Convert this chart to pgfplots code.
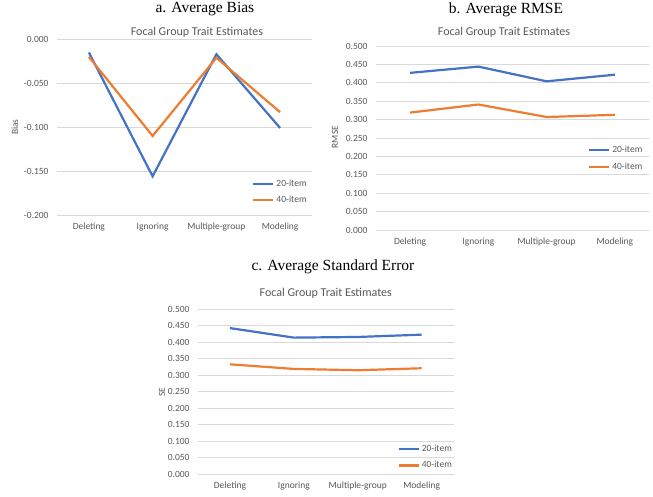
\documentclass[border=0pt]{standalone}
\usepackage{pgfplots}
\pgfplotsset{compat=1.18}
\usepackage{fontspec}
\setmainfont{Carlito}
\newfontfamily\headfont{Liberation Serif}
\definecolor{exblue}{HTML}{4472C4}
\definecolor{exorange}{HTML}{ED7D31}
\definecolor{txtgray}{HTML}{595959}
\definecolor{gridgray}{HTML}{D9D9D9}
\pgfplotsset{
  excel/.style={
    scale only axis,
    anchor=south west,
    clip=false,
    xmin=-0.5, xmax=3.5,
    xtick={0,1,2,3},
    xticklabels={Deleting,Ignoring,Multiple-group,Modeling},
    axis line style={draw=none},
    major tick length=0pt,
    ymajorgrids,
    grid style={gridgray, line width=0.7pt},
    tick label style={font=\fontsize{9.5}{11}\selectfont, text=txtgray},
    yticklabel style={xshift=-5pt},
    xticklabel style={yshift=-4pt},
    ylabel style={font=\fontsize{9.5}{11}\selectfont, text=txtgray},
    every axis title shift=0pt,
    title style={font=\fontsize{12}{14}\selectfont, text=txtgray, anchor=center, yshift=0pt},
    title={Focal Group Trait Estimates},
    legend style={draw=none, fill=none, font=\fontsize{9.5}{11}\selectfont, text=txtgray, anchor=north west, row sep=4.5pt, inner sep=0pt},
    legend cell align=left,
    legend image code/.code={\draw[#1] (0pt,0pt) -- (20pt,0pt);},
  },
  s20/.style={exblue, line width=2.2pt},
  s40/.style={exorange, line width=2.2pt},
}
\begin{document}
\begin{tikzpicture}[x=1pt,y=1pt]
\useasboundingbox (0,0) rectangle (653,497);
% a. Average Bias
\begin{axis}[excel,
  at={(57pt,282pt)}, width=255pt, height=175.7pt,
  ymin=-0.2, ymax=0,
  ytick={-0.2,-0.15,-0.1,-0.05,0},
  yticklabels={-0.200,-0.150,-0.100,-0.050,0.000},
  ylabel={Bias},
  ylabel style={at={(axis description cs:-0.165,0.5)}, anchor=center},
  title style={at={(axis description cs:0.549,1.042)}},
  legend style={at={(axis description cs:0.765,0.213)}},
]
\addplot[s20] coordinates {(0,-0.015) (1,-0.156) (2,-0.017) (3,-0.101)};
\addlegendentry{20-item}
\addplot[s40] coordinates {(0,-0.020) (1,-0.110) (2,-0.021) (3,-0.083)};
\addlegendentry{40-item}
\node[font=\headfont\fontsize{15.5}{18}\selectfont] at (axis description cs:0.58,1.17) {a. Average Bias};
\end{axis}
% b. Average RMSE
\begin{axis}[excel,
  at={(376pt,267pt)}, width=273pt, height=184pt,
  ymin=0, ymax=0.5,
  ytick={0,0.05,...,0.5},
  yticklabels={0.000,0.050,0.100,0.150,0.200,0.250,0.300,0.350,0.400,0.450,0.500},
  ylabel={RMSE},
  ylabel style={at={(axis description cs:-0.15,0.505)}, anchor=center},
  title style={at={(axis description cs:0.469,1.076)}},
  legend style={at={(axis description cs:0.776,0.468)}},
]
\addplot[s20] coordinates {(0,0.427) (1,0.444) (2,0.404) (3,0.422)};
\addlegendentry{20-item}
\addplot[s40] coordinates {(0,0.319) (1,0.341) (2,0.307) (3,0.313)};
\addlegendentry{40-item}
\node[font=\headfont\fontsize{15.5}{18}\selectfont] at (axis description cs:0.476,1.196) {b. Average RMSE};
\end{axis}
% c. Average Standard Error
\begin{axis}[excel,
  at={(198pt,23pt)}, width=255.6pt, height=164.7pt,
  ymin=0, ymax=0.5,
  ytick={0,0.05,...,0.5},
  yticklabels={0.000,0.050,0.100,0.150,0.200,0.250,0.300,0.350,0.400,0.450,0.500},
  ylabel={SE},
  ylabel style={at={(axis description cs:-0.141,0.498)}, anchor=center},
  title style={at={(axis description cs:0.50,1.099)}},
  legend style={at={(axis description cs:0.78,0.19)}},
]
\addplot[s20] coordinates {(0,0.443) (1,0.414) (2,0.416) (3,0.423)};
\addlegendentry{20-item}
\addplot[s40] coordinates {(0,0.333) (1,0.319) (2,0.315) (3,0.321)};
\addlegendentry{40-item}
\node[font=\headfont\fontsize{15.5}{18}\selectfont] at (axis description cs:0.528,1.257) {c. Average Standard Error};
\end{axis}
\end{tikzpicture}
\end{document}
